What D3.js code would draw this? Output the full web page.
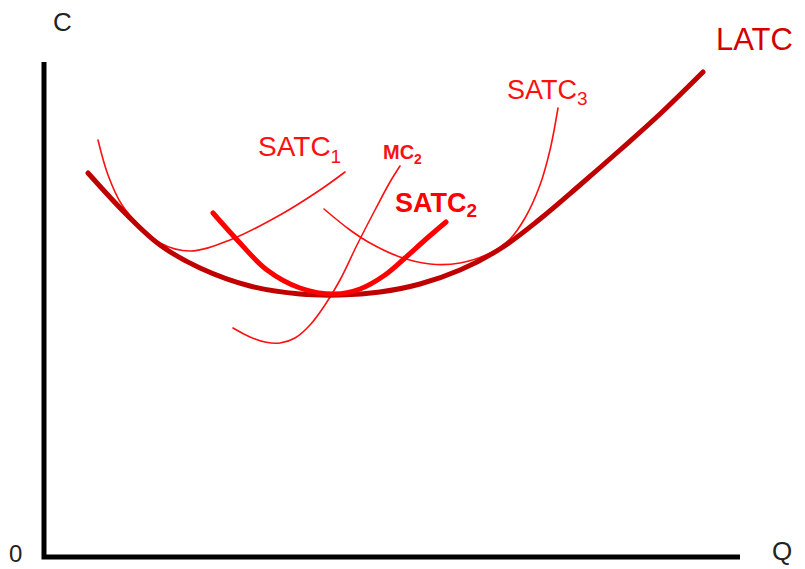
<!DOCTYPE html>
<html>
<head>
<meta charset="utf-8">
<script src="https://cdn.jsdelivr.net/npm/d3@7"></script>
<style>
  html, body { margin: 0; padding: 0; background: #fff; }
  svg { display: block; }
  text { font-family: "Liberation Sans", Arial, sans-serif; }
</style>
</head>
<body>
<svg id="chart" width="805" height="569"></svg>
<script>
// Cost curves: output Q against average cost C (arbitrary units)
const latc = [
  [8.8, 76.8], [16.6, 68.4], [23.2, 62.4], [31.2, 57.8], [41.2, 54.2],
  [51.2, 52.6], [59.2, 52.4], [67.2, 53.0], [75.2, 54.6], [83.2, 57.4],
  [91.2, 61.6], [99.2, 67.6], [107.2, 74.4], [115.2, 81.4], [123.2, 88.6],
  [131.8, 97.0]
];
const satc1 = [
  [10.8, 83.4], [12.8, 76.4], [15.6, 70.4], [19.2, 66.2], [23.2, 62.8],
  [29.2, 61.2], [37.2, 63.4], [47.2, 68.4], [55.2, 73.4], [60.2, 77.0]
];
const satc2 = [
  [33.8, 68.8], [39.2, 62.8], [44.6, 57.4], [51.2, 53.8], [58.2, 52.6],
  [63.2, 53.6], [68.2, 56.4], [72.2, 59.8], [76.2, 63.4], [80.4, 67.0]
];
const satc3 = [
  [56.0, 69.6], [61.2, 65.4], [65.2, 62.8], [71.2, 60.0], [77.2, 58.6],
  [83.2, 58.8], [89.2, 60.8], [93.2, 63.6], [96.2, 67.8], [99.2, 74.4],
  [101.2, 81.4], [102.8, 89.8]
];
const mc2 = [
  [37.8, 45.8], [41.2, 44.0], [44.2, 43.0], [47.2, 42.8], [50.2, 43.8],
  [53.2, 46.4], [56.2, 50.4], [59.2, 55.4], [62.6, 62.4], [66.2, 69.4],
  [69.2, 75.0], [71.2, 78.2]
];
const axisLabels = { x: "Q", y: "C", origin: "0" };

const svg = d3.select("#chart");
const x = d3.scaleLinear().domain([0, 139.2]).range([44, 740]);
const y = d3.scaleLinear().domain([0, 99]).range([557, 62]);

const line = d3.line()
  .x(d => x(d[0]))
  .y(d => y(d[1]))
  .curve(d3.curveCatmullRom.alpha(0.5));

// axes
svg.append("path")
  .attr("d", `M${x(0)},${y(99)}V${y(0)}H${x(139.2)}`)
  .attr("fill", "none")
  .attr("stroke", "#000")
  .attr("stroke-width", 5)
  .attr("stroke-linejoin", "miter");

// thin short-run curves
const thin = [satc1, satc3, mc2];
svg.selectAll("path.thin").data(thin).enter().append("path")
  .attr("class", "thin")
  .attr("d", line)
  .attr("fill", "none")
  .attr("stroke", "#ff1010")
  .attr("stroke-width", 1.6)
  .attr("stroke-linecap", "round");

// long-run curve
svg.append("path")
  .attr("d", line(latc))
  .attr("fill", "none")
  .attr("stroke", "#c00000")
  .attr("stroke-width", 5)
  .attr("stroke-linecap", "round");

// highlighted short-run curve
svg.append("path")
  .attr("d", line(satc2))
  .attr("fill", "none")
  .attr("stroke", "#ff0000")
  .attr("stroke-width", 5)
  .attr("stroke-linecap", "round");

// curve labels with subscripts
function label(px, py, main, sub, size, subSize, subDy, weight, color) {
  const t = svg.append("text")
    .attr("x", px).attr("y", py)
    .attr("font-size", size)
    .attr("font-weight", weight)
    .attr("fill", color);
  t.append("tspan").text(main);
  if (sub) {
    t.append("tspan").attr("font-size", subSize).attr("dy", subDy).text(sub);
  }
}
label(258, 156, "SATC", "1", 28, 19, 7, "normal", "#ff1010");
label(383, 159, "MC", "2", 20, 14, 5, "bold", "#ff1010");
label(395, 212, "SATC", "2", 27, 19, 5, "bold", "#ff0000");
label(507, 99, "SATC", "3", 27, 19, 6, "normal", "#ff1010");
label(716, 50, "LATC", null, 31, 0, 0, "normal", "#d40000");

// axis letters
svg.append("text").attr("x", 53).attr("y", 31).attr("font-size", 26)
  .attr("fill", "#222").text(axisLabels.y);
svg.append("text").attr("x", 772).attr("y", 560).attr("font-size", 26)
  .attr("fill", "#222").text(axisLabels.x);
svg.append("text").attr("x", 9).attr("y", 562).attr("font-size", 24)
  .attr("fill", "#222").text(axisLabels.origin);
</script>
</body>
</html>
